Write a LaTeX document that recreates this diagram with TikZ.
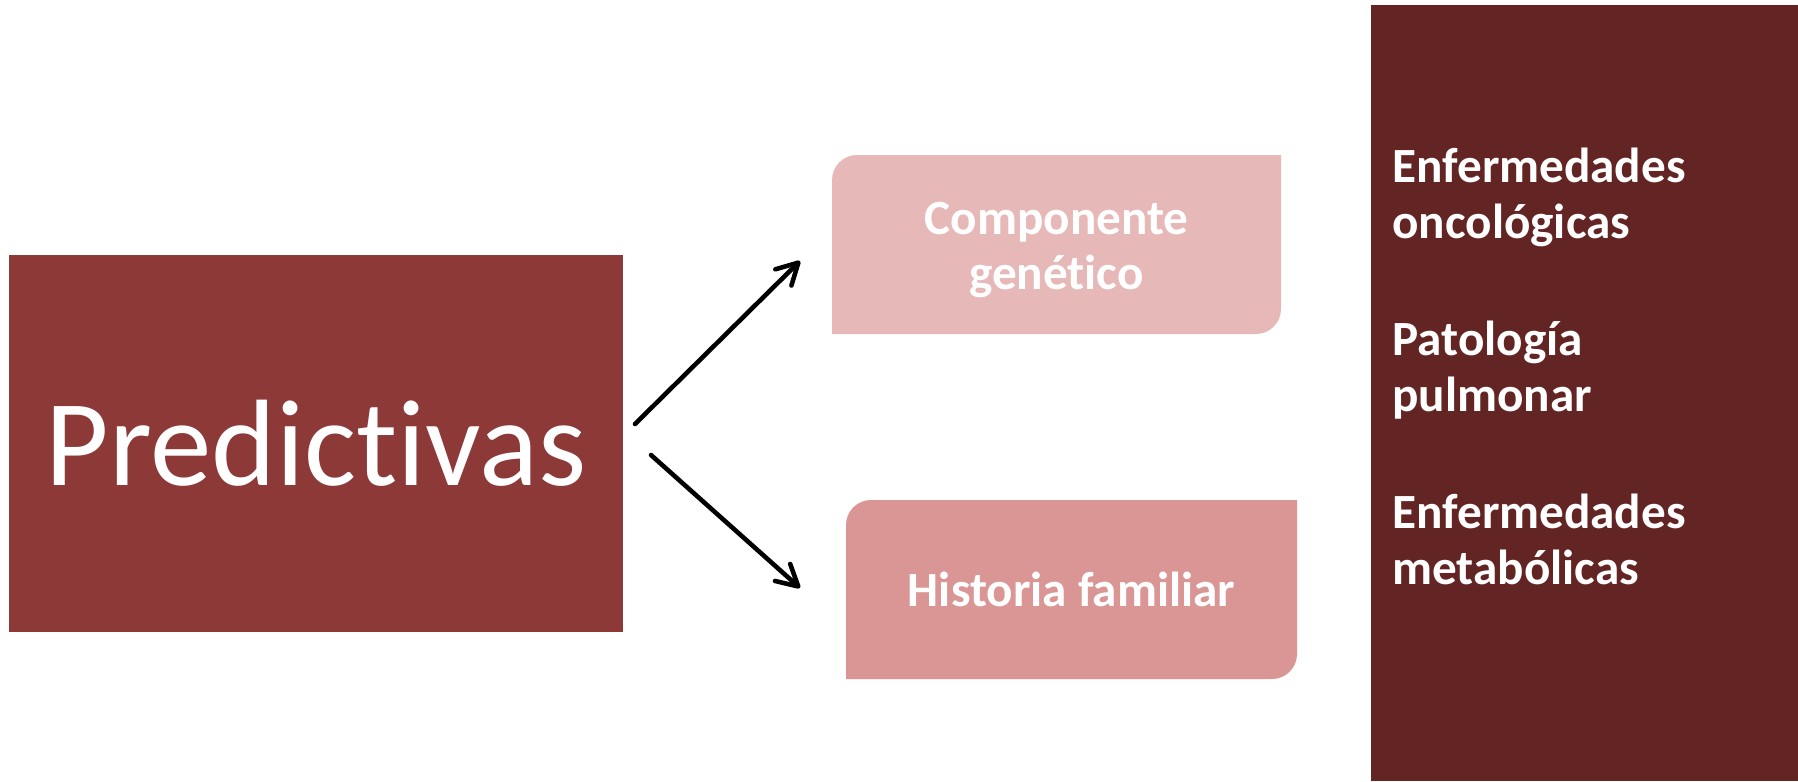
\documentclass[tikz,border=0pt]{standalone}
\usepackage{fontspec}
\setmainfont{Carlito}[Ligatures=NoCommon]
\usepackage{tikz}
\usetikzlibrary{positioning, arrows.meta, backgrounds}
\definecolor{predred}{HTML}{8C3937}
\definecolor{genpink}{HTML}{E6B9B8}
\definecolor{histpink}{HTML}{D99694}
\definecolor{sidered}{HTML}{632523}

\begin{document}
\begin{tikzpicture}[x=0.02cm,y=-0.02cm,
        main/.style={rectangle,fill=predred,text=white,inner sep=0pt,minimum width=12.28cm,minimum height=7.54cm,font=\fontsize{70}{80}\selectfont},
        item/.style={rectangle,inner sep=0pt,text=white,align=center,minimum width=9cm,minimum height=3.58cm,font=\bfseries\fontsize{28}{31.7}\selectfont},
        side/.style={rectangle,fill=sidered,inner sep=0pt,minimum width=8.54cm,minimum height=15.52cm},
        sidetext/.style={inner sep=0pt,text=white,align=left,anchor=north west,font=\bfseries\fontsize{28}{31.7}\selectfont},
        link/.style={line width=2.6pt,line cap=round,-{Straight Barb[length=12pt,width=13pt,line cap=round,line join=round]}}]
        \useasboundingbox (0,0) rectangle (1798,781);

        \node[main] (pred) at (316,443.5) {Predictivas};
        \node[item] (gen)  at (1056.5,250) {Componente\\genético};
        \node[item] (hist) at (1071.5,589.5) {Historia familiar};
        \node[side] (side) at (1584.5,393) {};
        \node[sidetext] (ills) at (1392,148) {Enfermedades\\oncológicas\\[35pt]Patología\\pulmonar\\[35pt]Enfermedades\\metabólicas};

        % boxes with two rounded corners
        \begin{scope}[on background layer]
            \fill[genpink] (832,244.5) [rounded corners=0.5cm] -- (832,155) [sharp corners] -- (1281,155)
                [rounded corners=0.5cm] -- (1281,334) [sharp corners] -- (832,334) -- cycle;
            \fill[histpink] (846,589.5) [rounded corners=0.5cm] -- (846,500) [sharp corners] -- (1297,500)
                [rounded corners=0.5cm] -- (1297,679) [sharp corners] -- (846,679) -- cycle;
        \end{scope}

        \coordinate (s1) at (635,424);
        \coordinate (t1) at (800,261);
        \coordinate (s2) at (651,455);
        \coordinate (t2) at (800,588);
        \draw[link] (s1) -- (t1);
        \draw[link] (s2) -- (t2);
\end{tikzpicture}
\end{document}
